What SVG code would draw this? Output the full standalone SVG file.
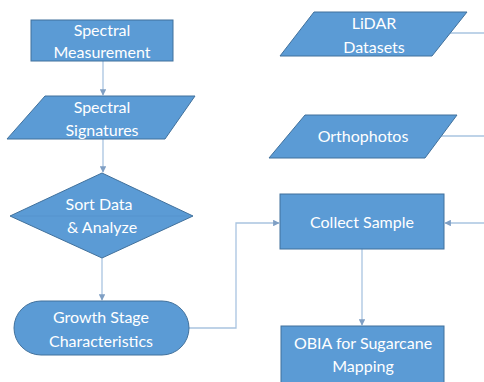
<svg xmlns="http://www.w3.org/2000/svg" width="484" height="382" viewBox="0 0 484 382">
<defs>
<style>
.n{fill:#5B9BD5;stroke:#41719C;stroke-width:1}
.t{fill:#FFFFFF;font-family:Lato,"Open Sans","Liberation Sans",sans-serif;font-size:16px;text-anchor:middle}
.c{fill:none;stroke:#A9C4E0;stroke-width:1.3}
</style>
<marker id="a" viewBox="0 0 10 10" refX="9" refY="5" markerWidth="5" markerHeight="5" orient="auto" markerUnits="strokeWidth">
<path d="M0,0 L10,5 L0,10 z" fill="#7F9FC4"/>
</marker>
</defs>
<rect x="0" y="0" width="484" height="382" fill="#FFFFFF"/>
<g id="connectors">
<path class="c" d="M103,61 V95" marker-end="url(#a)"/>
<path class="c" d="M103,139 V172" marker-end="url(#a)"/>
<path class="c" d="M102,258 V300" marker-end="url(#a)"/>
<path class="c" d="M189,328 H236 V223 H279" marker-end="url(#a)"/>
<path class="c" d="M449,33 H490"/>
<path class="c" d="M441,136 H490"/>
<path class="c" d="M490,223 H445" marker-end="url(#a)"/>
<path class="c" d="M362,249 V325" marker-end="url(#a)"/>
</g>
<g id="spectral-measurement">
<rect class="n" x="31" y="20" width="142" height="41"/>
<text class="t" x="102" y="36">Spectral</text>
<text class="t" x="102" y="58">Measurement</text>
</g>
<g id="spectral-signatures">
<polygon class="n" points="45,96 195,96 165,139 7,139"/>
<text class="t" x="102" y="113">Spectral</text>
<text class="t" x="102" y="136">Signatures</text>
</g>
<g id="sort-data">
<polygon class="n" points="102,173 193,216 102,258 10,216"/>
<line x1="14" y1="216" x2="189" y2="216" stroke="#5390CB" stroke-width="0.7"/>
<text class="t" x="99" y="210">Sort Data</text>
<text class="t" x="102" y="233">&amp; Analyze</text>
</g>
<g id="growth-stage">
<rect class="n" x="14" y="301" width="175" height="54" rx="27" ry="27"/>
<text class="t" x="101" y="323">Growth Stage</text>
<text class="t" x="101" y="347">Characteristics</text>
</g>
<g id="lidar">
<polygon class="n" points="314,12 467,12 432,56 280,56"/>
<text class="t" x="374" y="29">LiDAR</text>
<text class="t" x="374" y="53">Datasets</text>
</g>
<g id="orthophotos">
<polygon class="n" points="305,115 457,115 425,158 269,158"/>
<text class="t" x="363" y="142">Orthophotos</text>
</g>
<g id="collect-sample">
<rect class="n" x="280" y="194" width="164" height="55"/>
<text class="t" x="362" y="228">Collect Sample</text>
</g>
<g id="obia">
<rect class="n" x="281" y="326" width="163" height="62"/>
<text class="t" x="363" y="349">OBIA for Sugarcane</text>
<text class="t" x="363" y="372">Mapping</text>
</g>
</svg>
